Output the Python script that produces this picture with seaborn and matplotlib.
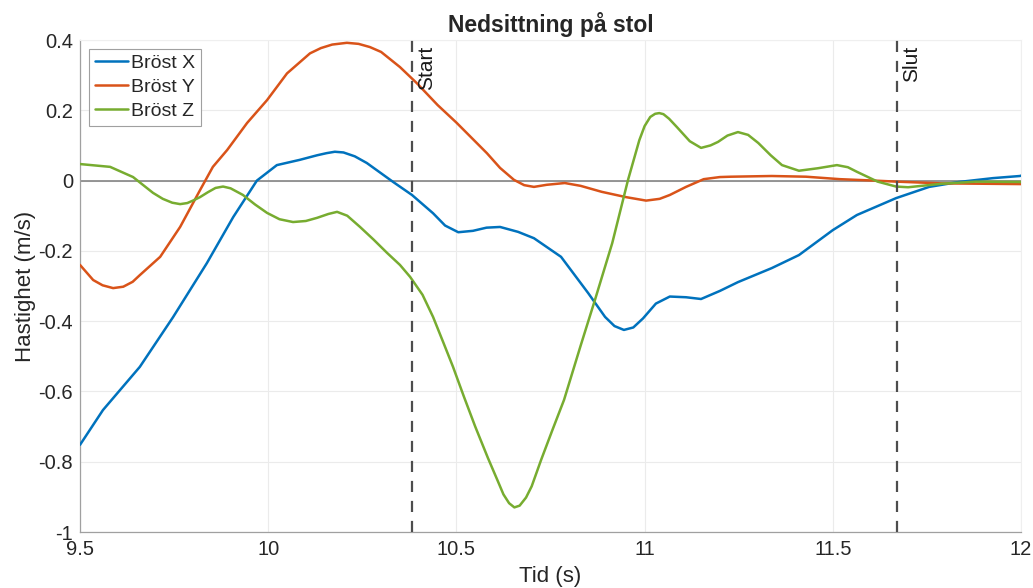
import numpy as np
import pandas as pd
import seaborn as sns
import matplotlib
matplotlib.use("Agg")
import matplotlib.pyplot as plt
import matplotlib.transforms as mtransforms

# ---- data ----
tx = [9.50, 9.561, 9.659, 9.747, 9.837, 9.907, 9.970, 10.023, 10.084, 10.130, 10.155, 10.177,
      10.200, 10.230, 10.262, 10.332, 10.382, 10.438, 10.470, 10.505, 10.544, 10.580, 10.616,
      10.664, 10.706, 10.778, 10.850, 10.895, 10.920, 10.945, 10.970, 10.996, 11.030,
      11.067, 11.110, 11.150, 11.200, 11.248, 11.338, 11.410, 11.500, 11.564, 11.668,
      11.756, 11.835, 11.926, 11.997, 12.0]
vx = [-0.752, -0.653, -0.530, -0.389, -0.235, -0.104, 0.000, 0.044, 0.059, 0.072, 0.078, 0.082,
      0.080, 0.069, 0.050, -0.004, -0.041, -0.093, -0.128, -0.147, -0.143, -0.134, -0.132,
      -0.146, -0.164, -0.217, -0.320, -0.388, -0.414, -0.425, -0.418, -0.392, -0.350,
      -0.330, -0.332, -0.337, -0.314, -0.289, -0.249, -0.212, -0.141, -0.098, -0.050,
      -0.018, -0.004, 0.007, 0.013, 0.014]

ty = [9.50, 9.535, 9.560, 9.588, 9.615, 9.640, 9.659, 9.713, 9.766, 9.819, 9.853, 9.891,
      9.944, 9.997, 10.050, 10.111, 10.140, 10.170, 10.209, 10.240, 10.270, 10.300, 10.350,
      10.395, 10.450, 10.500, 10.581, 10.616, 10.653, 10.680, 10.706, 10.740, 10.788,
      10.830, 10.886, 10.950, 11.004, 11.040, 11.067, 11.110, 11.157, 11.200, 11.229,
      11.338, 11.429, 11.519, 11.609, 11.668, 11.790, 12.0]
vy = [-0.240, -0.283, -0.298, -0.306, -0.302, -0.288, -0.269, -0.217, -0.132, -0.027, 0.039,
      0.087, 0.164, 0.229, 0.305, 0.362, 0.377, 0.387, 0.392, 0.389, 0.380, 0.366, 0.323,
      0.277, 0.215, 0.165, 0.078, 0.036, 0.002, -0.013, -0.018, -0.012, -0.007,
      -0.015, -0.032, -0.047, -0.057, -0.052, -0.041, -0.018, 0.004, 0.010, 0.011,
      0.013, 0.011, 0.004, 0.000, -0.003, -0.008, -0.010]

tz = [9.50, 9.580, 9.641, 9.694, 9.720, 9.745, 9.766, 9.785, 9.800, 9.819, 9.840, 9.860,
      9.880, 9.900, 9.933, 9.965, 9.997, 10.030, 10.066, 10.100, 10.130, 10.160, 10.183,
      10.210, 10.244, 10.280, 10.316, 10.350, 10.377, 10.410, 10.438, 10.465, 10.491,
      10.520, 10.550, 10.584, 10.610, 10.625, 10.640, 10.654, 10.668, 10.685, 10.700,
      10.725, 10.755, 10.786, 10.830, 10.868, 10.914, 10.956, 10.986, 11.000, 11.015,
      11.028, 11.039, 11.050, 11.065, 11.086, 11.120, 11.150, 11.175, 11.195, 11.220,
      11.248, 11.275, 11.302, 11.335, 11.365, 11.410, 11.460, 11.511, 11.540, 11.564,
      11.619, 11.668, 11.700, 11.790, 11.880, 12.0]
vz = [0.047, 0.039, 0.010, -0.035, -0.052, -0.063, -0.067, -0.064, -0.057, -0.047, -0.033,
      -0.021, -0.017, -0.022, -0.041, -0.068, -0.092, -0.110, -0.118, -0.115, -0.106,
      -0.095, -0.089, -0.100, -0.132, -0.168, -0.206, -0.240, -0.274, -0.325, -0.388,
      -0.460, -0.530, -0.615, -0.700, -0.790, -0.855, -0.893, -0.918, -0.930, -0.925,
      -0.902, -0.870, -0.795, -0.710, -0.624, -0.470, -0.340, -0.178, 0.002, 0.115,
      0.155, 0.181, 0.190, 0.192, 0.189, 0.176, 0.152, 0.112, 0.093, 0.100, 0.110,
      0.128, 0.138, 0.130, 0.107, 0.072, 0.044, 0.028, 0.035, 0.044, 0.038, 0.025,
      -0.003, -0.017, -0.019, -0.009, -0.003, -0.004]

series_names = ["Bröst X", "Bröst Y", "Bröst Z"]
series_colors = ["#0072BD", "#D95319", "#77AC30"]
event_times = [10.382, 11.670]
event_labels = ["Start", "Slut"]
x_ticks = [9.5, 10, 10.5, 11, 11.5, 12]
x_ticklabels = ["9.5", "10", "10.5", "11", "11.5", "12"]
y_ticks = [-1, -0.8, -0.6, -0.4, -0.2, 0, 0.2, 0.4]
y_ticklabels = ["-1", "-0.8", "-0.6", "-0.4", "-0.2", "0", "0.2", "0.4"]

df = pd.concat([
    pd.DataFrame({"t": tx, "v": vx, "s": series_names[0]}),
    pd.DataFrame({"t": ty, "v": vy, "s": series_names[1]}),
    pd.DataFrame({"t": tz, "v": vz, "s": series_names[2]}),
], ignore_index=True)

sns.set_style("white")
plt.rcParams["font.family"] = ["Liberation Sans", "DejaVu Sans"]

fig = plt.figure(figsize=(10.33, 5.88), dpi=100)
ax = fig.add_axes([80 / 1033, 1 - 532 / 588, 941 / 1033, 492 / 588])

ax.grid(True, color="#ebebeb", linewidth=0.8, zorder=0)
ax.set_axisbelow(True)
ax.axhline(0, color="#7a7a7a", linewidth=1.1, zorder=1)

sns.lineplot(data=df, x="t", y="v", hue="s", palette=series_colors,
             hue_order=series_names, linewidth=1.8, ax=ax, sort=True,
             estimator=None, zorder=3)

for xt, lab in zip(event_times, event_labels):
    ax.axvline(xt, color="#4d4d4d", linewidth=1.6, linestyle=(0, (5, 4)), zorder=4)
    off = mtransforms.offset_copy(ax.transData, fig=fig, x=3.5, y=-4, units="points")
    ax.text(xt, 0.4, lab, rotation=90, ha="left", va="top", fontsize=15,
            color="#1a1a1a", transform=off, zorder=5)

ax.set_xlim(9.5, 12)
ax.set_ylim(-1, 0.4)
ax.set_xticks(x_ticks)
ax.set_xticklabels(x_ticklabels)
ax.set_yticks(y_ticks)
ax.set_yticklabels(y_ticklabels)
ax.tick_params(axis="both", direction="in", length=5, width=0.8, color="#a0a0a0",
               labelsize=14.5, labelcolor="#262626", pad=5)
ax.tick_params(axis="x", pad=6)

for side in ["top", "right"]:
    ax.spines[side].set_visible(True)
    ax.spines[side].set_color("#efefef")
    ax.spines[side].set_linewidth(0.8)
for side in ["left", "bottom"]:
    ax.spines[side].set_color("#a0a0a0")
    ax.spines[side].set_linewidth(0.9)

ax.set_xlabel("Tid (s)", fontsize=16, color="#262626", labelpad=5)
ax.set_ylabel("Hastighet (m/s)", fontsize=16, color="#262626", labelpad=2)
ax.set_title("Nedsittning på stol", fontsize=16.5, fontweight="bold", color="#262626", pad=6)

leg = ax.legend(loc="upper left", fontsize=14, frameon=True, fancybox=False,
                edgecolor="#a0a0a0", framealpha=1, borderpad=0.3, labelspacing=0.33,
                handlelength=1.7, handletextpad=0.15, borderaxespad=0.45)
leg.get_frame().set_linewidth(0.8)
for h in leg.get_lines():
    h.set_linewidth(1.8)

fig.savefig("out.png", dpi=100)
